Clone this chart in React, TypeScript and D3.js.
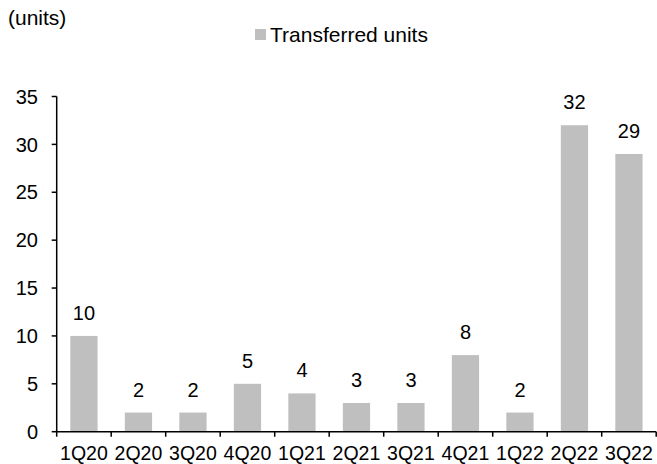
import React from "react";
import * as d3 from "d3";

const categories = ["1Q20","2Q20","3Q20","4Q20","1Q21","2Q21","3Q21","4Q21","1Q22","2Q22","3Q22"];
const values = [10,2,2,5,4,3,3,8,2,32,29];
const yTicks = [0,5,10,15,20,25,30,35];
const seriesName = "Transferred units";
const unitLabel = "(units)";

export default function App() {
  const W = 657, H = 464;
  const x0 = 56.7, x1 = 656.2, yTop = 96.5, yBot = 431.7;
  const x = d3.scaleBand<string>().domain(categories).range([x0, x1]).paddingInner(0.5).paddingOuter(0.25);
  const xb = d3.scaleBand<string>().domain(categories).range([x0, x1]);
  const y = d3.scaleLinear().domain([0, 35]).range([yBot, yTop]);
  const font = "'Liberation Sans', Arial, sans-serif";
  return (
    <svg width={W} height={H} style={{ position: "absolute", left: 0, top: 0 }} fontFamily={font}>
      <text x={8} y={25} fontSize={21} fill="#000">{unitLabel}</text>
      <rect x={255} y={29} width={11} height={11} fill="#bfbfbf" />
      <text x={270} y={42} fontSize={21} fill="#000">{seriesName}</text>
      {categories.map((c, i) => (
        <rect key={c} x={x(c)} y={y(values[i])} width={x.bandwidth()} height={yBot - y(values[i])} fill="#bfbfbf" />
      ))}
      {categories.map((c, i) => (
        <text key={"v" + c} x={(x(c) as number) + x.bandwidth() / 2} y={y(values[i]) - 16} fontSize={20} textAnchor="middle" fill="#000">{values[i]}</text>
      ))}
      <line x1={x0} x2={x0} y1={yTop} y2={yBot} stroke="#000" strokeWidth={1.5} />
      {yTicks.map(t => (
        <g key={t}>
          <line x1={x0 - 5} x2={x0} y1={y(t)} y2={y(t)} stroke="#000" strokeWidth={1.5} />
          <text x={38} y={y(t)} dy="0.36em" fontSize={20} textAnchor="end" fill="#000">{t}</text>
        </g>
      ))}
      <line x1={x0} x2={x1} y1={yBot} y2={yBot} stroke="#000" strokeWidth={1.5} />
      {categories.map(c => (
        <line key={"t" + c} x1={xb(c)} x2={xb(c)} y1={yBot} y2={yBot + 5} stroke="#000" strokeWidth={1.5} />
      ))}
      <line x1={x1} x2={x1} y1={yBot} y2={yBot + 5} stroke="#000" strokeWidth={1.5} />
      {categories.map(c => (
        <text key={"l" + c} x={(xb(c) as number) + xb.bandwidth() / 2} y={460} fontSize={19.5} textAnchor="middle" fill="#000">{c}</text>
      ))}
    </svg>
  );
}
